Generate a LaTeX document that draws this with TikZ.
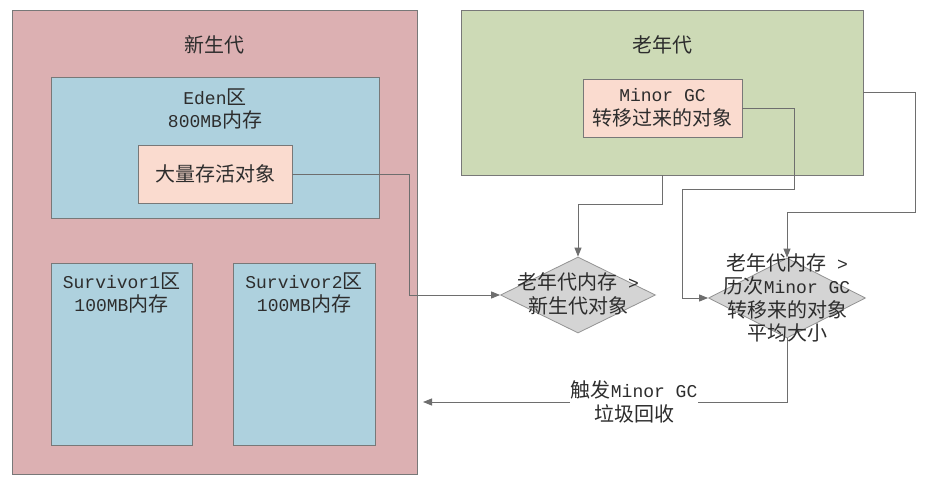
\documentclass[tikz,border=0pt]{standalone}
\usepackage{fontspec}
\setmainfont{Noto Sans CJK SC}
\newfontfamily\codefont[Scale=0.9]{Liberation Mono}
\usepackage{tikz}
\usetikzlibrary{shapes,arrows.meta,positioning,shadows}

\definecolor{younggen}{RGB}{220,176,178}
\definecolor{oldgen}{RGB}{205,218,182}
\definecolor{region}{RGB}{174,209,222}
\definecolor{objbox}{RGB}{250,219,207}
\definecolor{checkbox}{RGB}{212,212,212}
\definecolor{boxline}{RGB}{120,120,120}
\definecolor{wire}{RGB}{110,110,110}
\definecolor{ink}{RGB}{45,45,45}

\begin{document}
\begin{tikzpicture}[x=1pt, y=-1pt,
  area/.style={draw=boxline, line width=0.9pt, drop shadow={shadow xshift=1pt, shadow yshift=-1pt, opacity=0.25}},
  txt/.style={text=ink, align=center, font=\fontsize{20}{23.5}\selectfont},
  check/.style={diamond, draw=boxline!80, fill=checkbox, line width=0.8pt, inner sep=0pt},
  conn/.style={draw=wire, line width=0.9pt},
  tip/.style={conn, -{Triangle[length=9pt,width=7pt]}}]
  \useasboundingbox[fill=white] (0,0) rectangle (945,494);

  % young generation
  \node[area, fill=younggen, minimum width=405pt, minimum height=464pt] (young) at (214.5,242) {};
  \node[txt] (youngtitle) at (214.5,45) {新生代};
  \node[area, fill=region, minimum width=328pt, minimum height=141pt] (eden) at (215,147.5) {};
  \node[txt] (edentxt) at (215,109) {{\codefont Eden}区\\{\codefont 800MB}内存};
  \node[area, fill=objbox, minimum width=154pt, minimum height=58pt, txt] (bigobj) at (215,174) {大量存活对象};
  \node[area, fill=region, minimum width=141pt, minimum height=182pt] (surv1) at (121.5,354) {};
  \node[txt] (surv1txt) at (121.5,293) {{\codefont Survivor1}区\\{\codefont 100MB}内存};
  \node[area, fill=region, minimum width=142pt, minimum height=182pt] (surv2) at (304,354) {};
  \node[txt] (surv2txt) at (304,293) {{\codefont Survivor2}区\\{\codefont 100MB}内存};

  % old generation
  \node[area, fill=oldgen, minimum width=402pt, minimum height=165pt] (old) at (662,92.5) {};
  \node[txt] (oldtitle) at (662,45) {老年代};
  \node[area, fill=objbox, minimum width=159pt, minimum height=58pt, txt] (minorbox) at (662.5,108) {{\codefont Minor GC}\\转移过来的对象};

  % checks
  \node[check, minimum width=155pt, minimum height=76pt] (dia1) at (578,295) {};
  \node[check, minimum width=157pt, minimum height=80pt] (dia2) at (787,298) {};

  \draw[tip] (bigobj.east) -- ++(117,0) |- (dia1.west);
  \draw[tip] (old.south) -- ++(0,29) -| (dia1.north);
  \draw[tip] (minorbox.east) -| ++(52,81) -| ([xshift=-26pt]dia2.west) -- (dia2.west);
  \draw[tip] (old.east) -| ++(52,119.5) -| (dia2.north);

  \node[txt] (dia1txt) at (578,294) {老年代内存{\codefont\ >}\\新生代对象};
  \node[txt] (dia2txt) at (787,298) {老年代内存{\codefont\ >}\\历次{\codefont Minor GC}\\转移来的对象\\平均大小};

  \coordinate (gcend) at (423,402);
  \draw[tip] (dia2.south) |- (gcend)
    node[txt, pos=0.71, fill=white, inner sep=1pt] (gclabel) {触发{\codefont Minor GC}\\垃圾回收};
\end{tikzpicture}
\end{document}
